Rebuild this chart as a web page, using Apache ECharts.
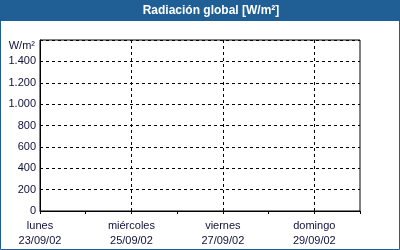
<!DOCTYPE html>
<html>
<head>
<meta charset="utf-8">
<script src="https://cdn.jsdelivr.net/npm/echarts@6/dist/echarts.min.js"></script>
<style>
  html, body { margin: 0; padding: 0; background: #fff; }
  #main { width: 400px; height: 250px; }
</style>
</head>
<body>
<div id="main"></div>
<script>
// days shown on the x axis (one tick per day, label every second day)
const dias = ['lunes', 'martes', 'miércoles', 'jueves', 'viernes', 'sábado', 'domingo', 'lunes'];
const fechas = ['23/09/02', '24/09/02', '25/09/02', '26/09/02', '27/09/02', '28/09/02', '29/09/02', '30/09/02'];
// no readings were plotted in the reference week
const radiacion = [];
const yMax = 1600;
const yStep = 200;

const azul = '#1f5f96';
const tinta = '#10103a';
const fuente = 'Tahoma, "Liberation Sans", sans-serif';

function miles(v) {
  return String(v).replace(/\B(?=(\d{3})+(?!\d))/g, '.');
}

const chart = echarts.init(document.getElementById('main'));

const option = {
  animation: false,
  backgroundColor: '#fff',
  graphic: [
    // outer frame + title bar
    { type: 'rect', shape: { x: 0.5, y: 0.5, width: 399, height: 249 },
      style: { fill: 'none', stroke: azul, lineWidth: 1 }, z: 100 },
    { type: 'rect', shape: { x: 0, y: 0, width: 400, height: 21 },
      style: { fill: azul }, z: 99 },
    { type: 'text', x: 211, y: 11, z: 101,
      style: { text: 'Radiación global [W/m²]', fill: '#fff', font: 'bold 12px ' + fuente,
        textAlign: 'center', textVerticalAlign: 'middle' } }
  ],
  grid: {
    left: 40, top: 40, width: 320, height: 171,
    show: true, borderColor: '#000', borderWidth: 1, backgroundColor: '#fff'
  },
  xAxis: {
    type: 'category',
    boundaryGap: false,
    data: dias.map((d, i) => d + '\n' + fechas[i]),
    axisLine: { lineStyle: { color: '#000', width: 1 } },
    axisTick: { show: true, interval: 0, length: 3, lineStyle: { color: '#000' } },
    axisLabel: {
      interval: 1, margin: 7, color: tinta, fontFamily: fuente, fontSize: 11, lineHeight: 15
    },
    splitLine: {
      show: true,
      interval: (i) => i % 2 === 0 && i > 0,
      lineStyle: { color: '#000', type: [3, 3], width: 1 }
    }
  },
  yAxis: {
    type: 'value',
    min: 0, max: yMax, interval: yStep,
    name: 'W/m²',
    nameLocation: 'end',
    nameGap: -6,
    nameTextStyle: { color: tinta, fontFamily: fuente, fontSize: 11, align: 'right', verticalAlign: 'middle', padding: [0, 5, 0, 0] },
    axisLine: { show: true, lineStyle: { color: '#000', width: 1 } },
    axisTick: { show: false },
    axisLabel: {
      margin: 4, color: tinta, fontFamily: fuente, fontSize: 11,
      formatter: (v) => v === yMax ? '' : miles(v)
    },
    splitLine: { show: true, lineStyle: { color: '#000', type: [3, 3], width: 1 } }
  },
  series: [
    { name: 'Radiación global', type: 'line', data: radiacion, showSymbol: false,
      lineStyle: { color: azul, width: 1 } }
  ]
};

chart.setOption(option);
</script>
</body>
</html>
